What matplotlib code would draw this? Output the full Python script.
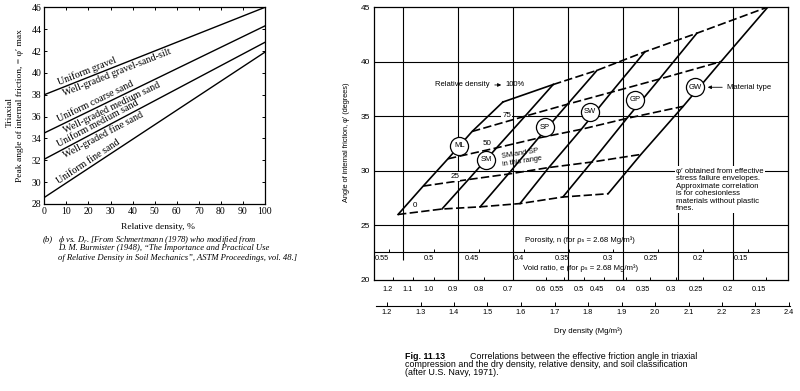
import math

import matplotlib.pyplot as plt

plt.rcParams["mathtext.fontset"] = "stix"

W, H = 800, 391
SERIF = "Liberation Serif"
SANS = ["Liberation Sans", "DejaVu Sans"]

# left chart: peak friction angle vs relative density (Schmertmann)
dr_ends = [0, 100]
phi_dr0 = [38.0, 34.5, 32.1, 28.6]
phi_dr100 = [46.0, 44.3, 42.8, 41.9]
labels_above = ["Uniform gravel", "Uniform coarse sand", "Uniform medium sand", "Uniform fine sand"]
labels_below = ["Well-graded gravel-sand-silt", "Well-graded medium sand", "Well-graded fine sand", ""]

# right chart: US Navy correlation, one row per material type
materials = ["ML", "SM", "SP", "SW", "GP", "GW"]
rel_density = [0, 25, 50, 75, 100]
rho_dry = [
    [1.233, 1.308, 1.382, 1.454, 1.546],
    [1.364, 1.443, 1.527, 1.612, 1.696],
    [1.478, 1.562, 1.652, 1.739, 1.827],
    [1.597, 1.683, 1.780, 1.870, 1.970],
    [1.725, 1.811, 1.916, 2.013, 2.125],
    [1.860, 1.958, 2.084, 2.197, 2.337],
]
phi_eff = [
    [26.0, 28.6, 31.1, 33.6, 36.3],
    [26.5, 29.2, 32.1, 35.0, 37.9],
    [26.7, 29.7, 33.0, 36.1, 39.2],
    [27.0, 30.3, 33.8, 37.2, 40.9],
    [27.6, 30.8, 34.8, 38.4, 42.6],
    [27.9, 31.5, 35.9, 40.0, 45.0],
]
circle_rho = [1.416, 1.496, 1.672, 1.806, 1.940, 2.119]
circle_phi = [32.3, 31.0, 34.0, 35.4, 36.5, 37.65]
rd_label_text = ["0", "25", "50", "75"]
rd_label_rho = [1.284, 1.403, 1.498, 1.557]
rd_label_phi = [26.8, 29.5, 32.5, 35.1]

RHO_S = 2.68
porosity_ticks = [0.55, 0.5, 0.45, 0.4, 0.35, 0.3, 0.25, 0.2, 0.15]
void_ticks = [1.2, 1.1, 1.0, 0.9, 0.8, 0.7, 0.6, 0.55, 0.5, 0.45, 0.4, 0.35, 0.3, 0.25, 0.2, 0.15]
void_labels = ["1.2", "1.1", "1.0", "0.9", "0.8", "0.7", "0.6", "0.55", "0.5",
               "0.45", "0.4", "0.35", "0.3", "0.25", "0.2", "0.15"]
dry_ticks = [1.2, 1.3, 1.4, 1.5, 1.6, 1.7, 1.8, 1.9, 2.0, 2.1, 2.2, 2.3, 2.4]


def px_box(left, top, right, bottom):
    return [left / W, 1 - bottom / H, (right - left) / W, (bottom - top) / H]


def rho_at(px):
    # pixel column -> dry density on the right chart
    return 1.2 + (px - 387) / 335


fig = plt.figure(figsize=(8, 3.91), dpi=100)

# ---------------- left chart ----------------
axL = fig.add_axes(px_box(44.3, 7.3, 265, 204))
axL.set_xlim(0, 100)
axL.set_ylim(28, 46)
axL.set_xticks(range(0, 101, 10))
axL.set_yticks(range(28, 47, 2))
axL.tick_params(direction="in", length=2.5, width=0.7, top=True, right=True,
                labelsize=7, pad=2, labelfontfamily=SERIF)
for sp in axL.spines.values():
    sp.set_linewidth(0.9)

for s, e, up, down in zip(phi_dr0, phi_dr100, labels_above, labels_below):
    axL.plot(dr_ends, [s, e], color="k", lw=1.0)
    p0, p1 = axL.transData.transform([(0, s), (100, e)])
    ang = math.degrees(math.atan2(p1[1] - p0[1], p1[0] - p0[0]))
    nx, ny = -math.sin(math.radians(ang)), math.cos(math.radians(ang))
    x0 = 7.5
    y0 = s + (e - s) * x0 / 100
    axL.annotate(up, (x0, y0), xytext=(nx * 1.0, ny * 1.0), textcoords="offset points",
                 rotation=ang, rotation_mode="anchor", ha="left", va="bottom",
                 fontsize=7.2, family=SERIF)
    if down:
        axL.annotate(down, (x0, y0), xytext=(-nx * 1.2, -ny * 1.2), textcoords="offset points",
                     rotation=ang, rotation_mode="anchor", ha="left", va="top",
                     fontsize=7.2, family=SERIF)

fig.text(158 / W, 1 - 227 / H, "Relative density, %", ha="center", va="center",
         fontsize=6.8, family=SERIF)
fig.text(9.5 / W, 1 - 112 / H, "Triaxial", rotation=90, ha="center", va="center",
         fontsize=6.8, family=SERIF)
fig.text(20 / W, 1 - 106 / H, "Peak angle of internal friction, = \u03c6\u2032 max", rotation=90,
         ha="center", va="center", fontsize=6.8, family=SERIF)

fig.text(43 / W, 1 - 239.5 / H, "(b)", ha="left", va="center", fontsize=6.2, family=SERIF, style="italic")
fig.text(58 / W, 1 - 239.5 / H, r"$\phi$ vs. $D_r$. [From Schmertmann (1978) who modified from",
         ha="left", va="center", fontsize=6.2, family=SERIF, style="italic")
fig.text(58 / W, 1 - 248.5 / H, "D. M. Burmister (1948), \u201cThe Importance and Practical Use",
         ha="left", va="center", fontsize=6.2, family=SERIF, style="italic")
fig.text(58 / W, 1 - 257.5 / H, "of Relative Density in Soil Mechanics\u201d, ASTM Proceedings, vol. 48.]",
         ha="left", va="center", fontsize=6.2, family=SERIF, style="italic")

# ---------------- right chart ----------------
ax = fig.add_axes(px_box(374, 7, 788, 280))
ax.set_xlim(rho_at(374), rho_at(788))
ax.set_ylim(20, 45)
ax.set_xticks([])
ax.set_yticks([20, 25, 30, 35, 40, 45])
ax.tick_params(axis="y", length=0, labelsize=6, pad=3)
for lab in ax.get_yticklabels():
    lab.set_family(SANS)
for sp in ax.spines.values():
    sp.set_linewidth(0.9)

# square background grid
for yv in [25, 30, 35, 40]:
    ax.axhline(yv, color="k", lw=0.8, zorder=1)
POROSITY_ROW = 22.56
ax.axhline(POROSITY_ROW, color="k", lw=0.8, zorder=1)
grid_x0, grid_step = rho_at(403), 55 / 335
for k in range(7):
    ax.vlines(grid_x0 + k * grid_step, 21.8 if k == 0 else 20, 45, color="k", lw=0.8, zorder=1)

# material lines (solid) and relative density lines (dashed)
for m in range(len(materials)):
    ax.plot(rho_dry[m], phi_eff[m], color="k", lw=1.2, zorder=2)
for k in range(len(rel_density)):
    xs = [row[k] for row in rho_dry]
    ys = [row[k] for row in phi_eff]
    if k == len(rel_density) - 1:
        ax.plot(xs[:2], ys[:2], color="k", lw=1.2, zorder=2)
        xs, ys = xs[1:], ys[1:]
    ax.plot(xs, ys, color="k", lw=1.2, dashes=(5, 2), zorder=2)

for t, xv, yv in zip(rd_label_text, rd_label_rho, rd_label_phi):
    ax.text(xv, yv, t, ha="center", va="center", fontsize=5.8, family=SANS, zorder=4,
            bbox=dict(boxstyle="square,pad=0.1", fc="white", ec="none"))

ax.scatter(circle_rho, circle_phi, s=170, facecolor="white", edgecolor="k", lw=0.9, zorder=5)
for name, xv, yv in zip(materials, circle_rho, circle_phi):
    ax.text(xv, yv, name, ha="center", va="center", fontsize=5.5, family=SANS, zorder=6)

ax.text(rho_at(490), 37.86, "Relative density", ha="right", va="center", fontsize=5.5, family=SANS)
ax.annotate("", xy=(rho_at(504), 37.86), xytext=(rho_at(492), 37.86),
            arrowprops=dict(arrowstyle="-|>", lw=0.6, color="k", mutation_scale=5))
ax.text(rho_at(505), 37.86, "100%", ha="left", va="center", fontsize=5.5, family=SANS)

ax.annotate("", xy=(rho_at(705), 37.65), xytext=(rho_at(725), 37.65),
            arrowprops=dict(arrowstyle="-|>", lw=0.6, color="k", mutation_scale=5))
ax.text(rho_at(727), 37.65, "Material type", ha="left", va="center", fontsize=5.5, family=SANS)

ax.text(rho_at(502), 30.95, "SM and SP\nin this range", ha="left", va="center", rotation=9,
        rotation_mode="anchor", fontsize=5.3, family=SANS, linespacing=1.15, zorder=4)

ax.text(rho_at(676), 30.3,
        "\u03c6\u2032 obtained from effective\nstress failure envelopes.\nApproximate correlation\n"
        "is for cohesionless\nmaterials without plastic\nfines.",
        ha="left", va="top", fontsize=5.6, family=SANS, linespacing=1.1, zorder=4,
        bbox=dict(boxstyle="square,pad=0.15", fc="white", ec="none"))

# porosity scale
for n in porosity_ticks:
    xv = RHO_S * (1 - n)
    ax.vlines(xv, POROSITY_ROW, POROSITY_ROW + 0.3, color="k", lw=0.7)
    ax.text(xv, 22.0, f"{n:g}", ha="right", va="center", fontsize=5.3, family=SANS)
ax.text(rho_at(525), 23.66, "Porosity, n (for \u03c1\u209b = 2.68 Mg/m\u00b3)",
        ha="left", va="center", fontsize=5.6, family=SANS)

# void ratio scale
for e, lab in zip(void_ticks, void_labels):
    xv = RHO_S / (1 + e)
    ax.vlines(xv, 20, 20.3, color="k", lw=0.7)
    ax.text(xv, 19.15, lab, ha="right", va="center", fontsize=5.3, family=SANS, clip_on=False)
ax.text(rho_at(523), 21.1, "Void ratio, e (for \u03c1\u209b = 2.68 Mg/m\u00b3)",
        ha="left", va="center", fontsize=5.6, family=SANS)

fig.text(347 / W, 1 - 142 / H, "Angle of internal friction, \u03c6\u2032 (degrees)", rotation=90,
         ha="center", va="center", fontsize=5.3, family=SANS)

# dry density scale
axd = fig.add_axes(px_box(376, 300, 790, 306))
axd.set_xlim(rho_at(376), rho_at(790))
axd.set_yticks([])
for side in ["top", "left", "right"]:
    axd.spines[side].set_visible(False)
axd.spines["bottom"].set_linewidth(0.8)
axd.patch.set_alpha(0)
axd.set_xticks(dry_ticks)
axd.set_xticklabels([f"{v:.1f}" for v in dry_ticks])
axd.tick_params(axis="x", direction="in", length=3, width=0.7, labelsize=5.3, pad=2.5)
for lab in axd.get_xticklabels():
    lab.set_family(SANS)
fig.text(588 / W, 1 - 331 / H, "Dry density (Mg/m\u00b3)", ha="center", va="center",
         fontsize=5.6, family=SANS)

# caption
fig.text(405 / W, 1 - 356.7 / H, "Fig. 11.13", ha="left", va="center", fontsize=6.4,
         family=SANS, fontweight="bold")
fig.text(470 / W, 1 - 356.7 / H,
         "Correlations between the effective friction angle in triaxial",
         ha="left", va="center", fontsize=6.4, family=SANS)
fig.text(405 / W, 1 - 364.4 / H,
         "compression and the dry density, relative density, and soil classification",
         ha="left", va="center", fontsize=6.4, family=SANS)
fig.text(405 / W, 1 - 372.1 / H, "(after U.S. Navy, 1971).", ha="left", va="center",
         fontsize=6.4, family=SANS)

fig.savefig("out.png", dpi=100)
